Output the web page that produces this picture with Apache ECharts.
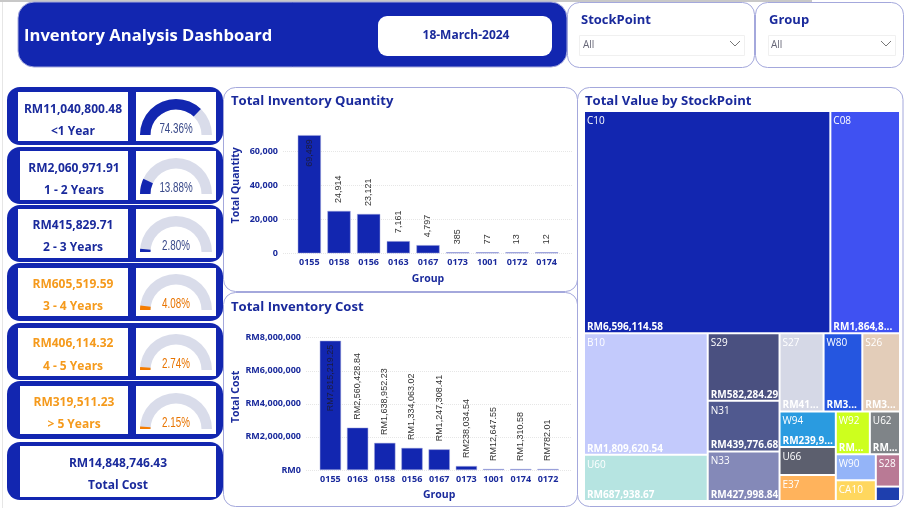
<!DOCTYPE html>
<html>
<head>
<meta charset="utf-8">
<style>
	html, body { margin: 0; padding: 0; background: #fff; }
	#main { width: 904px; height: 508px; }
</style>
<script src="https://cdn.jsdelivr.net/npm/echarts@6/dist/echarts.min.js"></script>
</head>
<body>
<div id="main"></div>
<script>
// DATA
var ageLabels = ['<1 Year', '1 - 2 Years', '2 - 3 Years', '3 - 4 Years', '4 - 5 Years', '> 5 Years'];
var ageCosts = ['RM11,040,800.48', 'RM2,060,971.91', 'RM415,829.71', 'RM605,519.59', 'RM406,114.32', 'RM319,511.23'];
var agePercents = [74.36, 13.88, 2.80, 4.08, 2.74, 2.15];
var totalCost = 'RM14,848,746.43';

var qtyGroups = ['0155', '0158', '0156', '0163', '0167', '0173', '1001', '0172', '0174'];
var qtyValues = [69489, 24914, 23121, 7161, 4797, 385, 77, 13, 12];

var costGroups = ['0155', '0163', '0158', '0156', '0167', '0173', '1001', '0174', '0172'];
var costValues = [7815219.25, 2560428.84, 1638952.23, 1334063.02, 1247308.41, 238034.54, 12647.55, 1310.58, 782.01];

var stockNames = ['C10', 'C08', 'B10', 'U60', 'S29', 'N31', 'N33', 'S27', 'W80', 'S26', 'W94', 'U66', 'E37', 'W92', 'U62', 'W90', 'CA10', 'S28', ''];
var stockValues = [6596114.58, 1864850, 1809620.54, 687938.67, 582284.29, 439776.68, 427998.84, 415000, 365000, 355000, 239900, 190000, 176000, 175000, 155000, 125000, 100000, 94000, 42000];
// tiles too small to show their value in the reference
var stockNoValue = ['U66', 'E37', 'W90', 'CA10', 'S28', ''];
// tiles whose value runs to the edge without an ellipsis
var stockFullValue = ['S29', 'N31', 'N33'];

// STYLES
var BLUE = '#1226b0';
var NAVY = '#1a2a9c';
var ORANGE = '#f59a1c';
var EDGE = '#a4a8dc';
var BOLD_FONT = '"Open Sans", sans-serif';
var stockColors = {
	C10: '#1226b0', C08: '#3f51f2', B10: '#c3cafc', U60: '#b6e4e1', S29: '#4a5080', N31: '#50598f',
	N33: '#8489b8', S27: '#d5d8e6', W80: '#2556e0', S26: '#e3cdb9', W94: '#2a9be0', W92: '#cdff1e',
	U62: '#7f8488', U66: '#5c5f6e', E37: '#ffb35c', W90: '#94b4f8', CA10: '#ffd75e', S28: '#b97a95'
};

// outer card y/height, then the white boxes and the two text rows
var cardBoxes = [
	{ y: 87, h: 58, lx: 18, ly: 92, lh: 49, ty: 108, by: 130 },
	{ y: 147, h: 57, lx: 20, ly: 151, lh: 49, ty: 167, by: 189 },
	{ y: 205, h: 57, lx: 18, ly: 209, lh: 49, ty: 224, by: 246 },
	{ y: 263, h: 58, lx: 18, ly: 268, lh: 48, ty: 283, by: 305 },
	{ y: 323, h: 57, lx: 18, ly: 328, lh: 48, ty: 342, by: 365 },
	{ y: 381, h: 58, lx: 20, ly: 386, lh: 48, ty: 401, by: 423 }
];
var gaugeBases = [135, 194, 252, 310, 370, 429];

function box(x, y, w, h, r, fill, stroke) {
	return {
		type: 'rect',
		shape: { x: x, y: y, width: w, height: h, r: r },
		style: { fill: fill, stroke: stroke || null, lineWidth: stroke ? 1 : 0 }
	};
}

function label(text, x, y, size, color, align, weight) {
	return {
		type: 'text',
		x: x,
		y: y + 1.5,
		style: {
			text: text,
			fill: color,
			font: (weight || 'bold') + ' ' + size + 'px ' + BOLD_FONT,
			textAlign: align || 'left',
			textVerticalAlign: 'middle'
		}
	};
}

function chevron(x, y) {
	return {
		type: 'polyline',
		shape: { points: [[x - 5, y - 3], [x, y + 2], [x + 5, y - 3]] },
		style: { stroke: '#777', fill: null, lineWidth: 1 }
	};
}

// gauge percentages are condensed in the reference
function percentText(i) {
	return {
		type: 'text',
		x: 176,
		y: gaugeBases[i] - 6,
		scaleX: 0.7,
		z: 5,
		style: {
			text: agePercents[i].toFixed(2) + '%',
			fill: i >= 3 ? '#e87400' : '#3a4a8a',
			font: '14px "Liberation Sans", sans-serif',
			textAlign: 'center',
			textVerticalAlign: 'middle'
		}
	};
}

function buildGraphics() {
	var g = [];
	g.push(box(0, 0, 812, 2, 0, '#c8c8c8'));
	g.push(box(2, 2, 1, 506, 0, '#e6e6e6'));

	// header
	g.push(box(18, 2, 549, 65, 16, BLUE, EDGE));
	g.push(label('Inventory Analysis Dashboard', 24, 34.5, 16.6, '#fff'));
	g.push(box(378, 16, 174, 40, 9, '#fff'));
	g.push(label('18-March-2024', 466, 34, 12, NAVY, 'center'));

	// slicers
	g.push(box(567.5, 2.5, 187, 65, 12, '#fff', EDGE));
	g.push(box(755.5, 2.5, 148, 65, 12, '#fff', EDGE));
	g.push(label('StockPoint', 581, 18.5, 13, NAVY));
	g.push(label('Group', 769, 18.5, 13, NAVY));
	g.push(box(579.5, 35.5, 165, 20, 0, '#fff', '#f0f0f0'));
	g.push(box(768.5, 35.5, 127, 20, 0, '#fff', '#f0f0f0'));
	g.push(label('All', 583, 43.5, 10, '#667', 'left', 'normal'));
	g.push(label('All', 771, 43.5, 10, '#667', 'left', 'normal'));
	g.push(chevron(735, 44));
	g.push(chevron(886, 44));

	// panels
	g.push(box(223.5, 87.5, 354, 204, 12, '#fff', EDGE));
	g.push(box(223.5, 292.5, 354, 214, 12, '#fff', EDGE));
	g.push(box(577.5, 87.5, 325.5, 419, 12, '#fff', EDGE));
	g.push(label('Total Inventory Quantity', 231, 100, 13.1, NAVY));
	g.push(label('Total Inventory Cost', 231, 306, 13.1, NAVY));
	g.push(label('Total Value by StockPoint', 585, 100, 13.1, NAVY));

	// age cards
	for (var i = 0; i < cardBoxes.length; i++) {
		var c = cardBoxes[i];
		var color = i < 3 ? NAVY : ORANGE;
		var mid = (c.lx + 128) / 2;
		g.push(box(7, c.y, 216, c.h, 13, BLUE));
		g.push(box(c.lx, c.ly, 128 - c.lx, c.lh, 0, '#fff'));
		g.push(box(136, c.ly, 80, c.lh, 0, '#fff'));
		g.push(label(ageCosts[i], mid, c.ty, 12, color, 'center'));
		g.push(label(ageLabels[i], mid, c.by, 12, color, 'center'));
		g.push(percentText(i));
	}
	g.push(box(7, 442, 216, 58, 13, BLUE));
	g.push(box(20, 446, 196, 51, 0, '#fff'));
	g.push(label(totalCost, 118, 462, 12, NAVY, 'center'));
	g.push(label('Total Cost', 118, 484, 12, NAVY, 'center'));
	return g;
}

function gaugeSeries(i) {
	return {
		type: 'gauge',
		center: [176, gaugeBases[i]],
		radius: 36,
		startAngle: 180,
		endAngle: 0,
		min: 0,
		max: 100,
		silent: true,
		pointer: { show: false },
		axisTick: { show: false },
		splitLine: { show: false },
		axisLabel: { show: false },
		axisLine: { lineStyle: { width: 10.5, color: [[1, '#d9dcea']] } },
		progress: { show: true, width: 10.5, itemStyle: { color: i >= 3 ? '#f57c00' : BLUE } },
		title: { show: false },
		detail: { show: false },
		data: [{ value: agePercents[i] }]
	};
}

function money(v) {
	return 'RM' + v.toLocaleString('en-US', { minimumFractionDigits: 2, maximumFractionDigits: 2 });
}

// first bar has its label inside, the others above the bar
function barData(values, formatter) {
	return values.map(function (v, i) {
		var first = i === 0;
		return {
			value: v,
			label: {
				show: true,
				position: first ? 'insideTop' : 'top',
				distance: first ? 4 : 8,
				rotate: 90,
				align: first ? 'right' : 'left',
				verticalAlign: 'middle',
				formatter: formatter(v),
				fontFamily: '"Liberation Sans", sans-serif',
				fontSize: 9,
				color: first ? '#1c1c3c' : '#333'
			}
		};
	});
}

function axisText(size) {
	return { color: NAVY, fontFamily: BOLD_FONT, fontWeight: 'bold', fontSize: size };
}

function backdropAxes(grid, max, interval, fmt, name, gap, showTop, namePadding) {
	return {
		x: { gridIndex: grid, type: 'value', show: false, min: 0, max: 1 },
		y: {
			gridIndex: grid,
			type: 'value',
			min: 0,
			max: max,
			interval: interval,
			name: name,
			nameLocation: 'middle',
			nameGap: gap,
			nameTextStyle: Object.assign({ padding: namePadding }, axisText(10.5)),
			axisLine: { show: false },
			axisTick: { show: false },
			axisLabel: Object.assign({ margin: 5, formatter: fmt, showMaxLabel: showTop }, axisText(9)),
			splitLine: { show: true, showMaxLine: showTop, lineStyle: { color: '#e6e6e6', type: 'dotted' } }
		}
	};
}

function barAxes(grid, cats, max) {
	return {
		x: {
			gridIndex: grid,
			type: 'category',
			data: cats,
			name: 'Group',
			nameLocation: 'middle',
			nameGap: 20,
			nameTextStyle: axisText(10.5),
			axisLine: { show: false },
			axisTick: { show: false },
			axisLabel: Object.assign({ margin: 5, interval: 0 }, axisText(9))
		},
		y: { gridIndex: grid, type: 'value', show: false, min: 0, max: max }
	};
}

function treemapData(overlay) {
	return stockNames.map(function (n, i) {
		var item = {
			name: n,
			value: stockValues[i],
			itemStyle: { color: overlay ? 'rgba(0,0,0,0)' : (stockColors[n] || '#1e3fae') }
		};
		if (overlay && stockNoValue.indexOf(n) >= 0) {
			item.label = { show: false };
		}
		if (overlay && stockFullValue.indexOf(n) >= 0) {
			item.label = { overflow: 'none' };
		}
		return item;
	});
}

// two layers: tile + name, then a see-through copy holding the value at the bottom
function treemapSeries(overlay) {
	return {
		type: 'treemap',
		left: 585,
		top: 112,
		width: 314,
		height: 388,
		roam: false,
		nodeClick: false,
		silent: overlay,
		breadcrumb: { show: false },
		visibleMin: 0,
		itemStyle: { gapWidth: 2, borderWidth: 0, borderColor: '#fff' },
		levels: [{ itemStyle: { gapWidth: 2, borderWidth: 0 } }],
		label: overlay ? {
			show: true,
			position: 'insideBottomLeft',
			formatter: function (p) { return money(p.value); },
			fontFamily: BOLD_FONT,
			fontWeight: 'bold',
			fontSize: 10,
			color: '#fff',
			padding: [0, 0, 0, 2]
		} : {
			show: true,
			position: 'insideTopLeft',
			formatter: '{b}',
			fontFamily: BOLD_FONT,
			fontSize: 10,
			color: '#fff',
			padding: [4, 0, 0, 2]
		},
		data: treemapData(overlay)
	};
}

var qtyBack = backdropAxes(0, 80000, 20000, function (v) { return v.toLocaleString('en-US'); }, 'Total Quantity', 41, false, 0);
var qtyBars = barAxes(1, qtyGroups, 80000);
var costBack = backdropAxes(2, 8000000, 2000000, function (v) { return 'RM' + v.toLocaleString('en-US'); }, 'Total Cost', 64, true, [0, 0, 0, 14]);
var costBars = barAxes(3, costGroups, 8000000);

var series = [
	{
		type: 'bar',
		xAxisIndex: 2,
		yAxisIndex: 2,
		barWidth: '78%',
		itemStyle: { color: BLUE, borderColor: EDGE, borderWidth: 0.5 },
		barMinHeight: 1,
		data: barData(qtyValues, function (v) { return v.toLocaleString('en-US'); })
	},
	{
		type: 'bar',
		xAxisIndex: 3,
		yAxisIndex: 3,
		barWidth: '78%',
		itemStyle: { color: BLUE, borderColor: EDGE, borderWidth: 0.5 },
		barMinHeight: 1,
		data: barData(costValues, money)
	},
	treemapSeries(false),
	treemapSeries(true)
];
for (var i = 0; i < agePercents.length; i++) {
	series.push(gaugeSeries(i));
}

var myChart = echarts.init(document.getElementById('main'));
myChart.setOption({
	animation: false,
	backgroundColor: '#fff',
	graphic: { elements: buildGraphics() },
	grid: [
		{ left: 283, top: 117.3, width: 289, height: 136 },
		{ left: 294.5, top: 117.3, width: 267, height: 136 },
		{ left: 306, top: 337.7, width: 266, height: 132.3 },
		{ left: 316.8, top: 337.7, width: 244.8, height: 132.3 }
	],
	xAxis: [qtyBack.x, costBack.x, qtyBars.x, costBars.x],
	yAxis: [qtyBack.y, costBack.y, qtyBars.y, costBars.y],
	series: series
});
</script>
</body>
</html>
